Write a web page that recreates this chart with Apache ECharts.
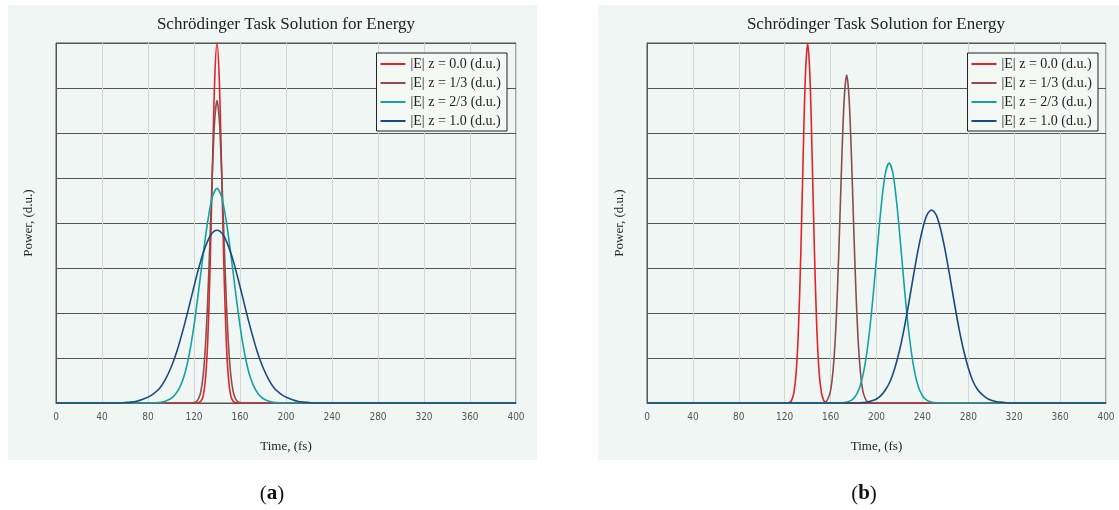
<!DOCTYPE html>
<html>
<head>
<meta charset="utf-8">
<script src="https://cdn.jsdelivr.net/npm/echarts@6/dist/echarts.min.js"></script>
<style>
  html, body { margin: 0; padding: 0; background: #fff; }
  #main { width: 1119px; height: 510px; }
</style>
</head>
<body>
<div id="main"></div>
<script>
var names = ["|E| z = 0.0 (d.u.)", "|E| z = 1/3 (d.u.)", "|E| z = 2/3 (d.u.)", "|E| z = 1.0 (d.u.)"];
var colors = ["#e3232a", "#8c4d4d", "#13a3a3", "#1a4b7c"];
var titleText = "Schrödinger Task Solution for Energy";

// panel (a): all pulses near 140 fs
var timeA0 = [122, 124, 126, 128, 130, 132, 134, 136, 138, 140, 142, 144, 146, 148, 150, 152, 154, 156, 158];
var powerA0 = [0, 0.01, 0.04, 0.16, 0.54, 1.42, 3.02, 5.19, 7.18, 8, 7.18, 5.19, 3.02, 1.42, 0.54, 0.16, 0.04, 0.01, 0];
var timeA1 = [118, 120, 122, 124, 126, 128, 130, 132, 134, 136, 138, 140, 142, 144, 146, 148, 150, 152, 154, 156, 158, 160, 162];
var powerA1 = [0, 0.01, 0.03, 0.10, 0.26, 0.62, 1.29, 2.33, 3.71, 5.16, 6.29, 6.72, 6.29, 5.16, 3.71, 2.33, 1.29, 0.62, 0.26, 0.10, 0.03, 0.01, 0];
var timeA2 = [84, 88, 92, 96, 100, 104, 108, 112, 116, 120, 124, 128, 132, 136, 140, 144, 148, 152, 156, 160, 164, 168, 172, 176, 180, 184, 188, 192, 196];
var powerA2 = [0, 0.01, 0.02, 0.05, 0.1, 0.2, 0.37, 0.65, 1.10, 1.72, 2.49, 3.31, 4.05, 4.58, 4.77, 4.58, 4.05, 3.31, 2.49, 1.72, 1.10, 0.65, 0.37, 0.2, 0.1, 0.05, 0.02, 0.01, 0];
var timeA3 = [55, 60, 65, 70, 75, 80, 85, 90, 95, 100, 105, 110, 115, 120, 125, 130, 135, 140, 145, 150, 155, 160, 165, 170, 175, 180, 185, 190, 195, 200, 205, 210, 215, 220, 225];
var powerA3 = [0, 0.01, 0.02, 0.04, 0.08, 0.13, 0.21, 0.32, 0.52, 0.79, 1.14, 1.58, 2.07, 2.59, 3.08, 3.48, 3.75, 3.84, 3.75, 3.48, 3.08, 2.59, 2.07, 1.58, 1.14, 0.79, 0.52, 0.32, 0.21, 0.13, 0.08, 0.04, 0.02, 0.01, 0];

// panel (b): pulses walk off
var timeB0 = [122, 124, 126, 128, 130, 132, 134, 136, 138, 140, 142, 144, 146, 148, 150, 152, 154, 156, 158];
var powerB0 = [0, 0.01, 0.06, 0.23, 0.68, 1.65, 3.29, 5.39, 7.25, 8, 7.25, 5.39, 3.29, 1.65, 0.68, 0.23, 0.06, 0.01, 0];
var timeB1 = [152, 154, 156, 158, 160, 162, 164, 166, 168, 170, 172, 174, 176, 178, 180, 182, 184, 186, 188, 190, 192, 194, 196];
var powerB1 = [0, 0.01, 0.03, 0.11, 0.28, 0.68, 1.39, 2.53, 4.02, 5.60, 6.82, 7.29, 6.82, 5.60, 4.02, 2.53, 1.39, 0.68, 0.28, 0.11, 0.03, 0.01, 0];
var timeB2 = [169, 172, 175, 178, 181, 184, 187, 190, 193, 196, 199, 202, 205, 208, 211, 214, 217, 220, 223, 226, 229, 232, 235, 238, 241, 244, 247, 250, 253];
var powerB2 = [0, 0.01, 0.03, 0.06, 0.13, 0.26, 0.49, 0.86, 1.40, 2.10, 2.94, 3.81, 4.59, 5.14, 5.33, 5.14, 4.59, 3.81, 2.94, 2.10, 1.40, 0.86, 0.49, 0.26, 0.13, 0.06, 0.03, 0.01, 0];
var timeB3 = [184, 188, 192, 196, 200, 204, 208, 212, 216, 220, 224, 228, 232, 236, 240, 244, 248, 252, 256, 260, 264, 268, 272, 276, 280, 284, 288, 292, 296, 300, 304, 308, 312, 316];
var powerB3 = [0, 0.01, 0.02, 0.05, 0.09, 0.17, 0.30, 0.49, 0.78, 1.16, 1.64, 2.20, 2.80, 3.37, 3.85, 4.18, 4.29, 4.18, 3.85, 3.37, 2.80, 2.20, 1.64, 1.16, 0.78, 0.49, 0.30, 0.19, 0.11, 0.06, 0.03, 0.02, 0.01, 0];

var panelA = [[timeA0, powerA0], [timeA1, powerA1], [timeA2, powerA2], [timeA3, powerA3]];
var panelB = [[timeB0, powerB0], [timeB1, powerB1], [timeB2, powerB2], [timeB3, powerB3]];

function pairs(t, p) {
  var out = [[0, 0]];
  for (var i = 0; i < t.length; i++) out.push([t[i], p[i]]);
  out.push([400, 0]);
  return out;
}

var serif = "'Liberation Serif', 'DejaVu Serif', serif";
var series = [];
[panelA, panelB].forEach(function (panel, k) {
  panel.forEach(function (d, i) {
    series.push({
      name: names[i],
      type: "line",
      xAxisIndex: k,
      yAxisIndex: k,
      data: pairs(d[0], d[1]),
      showSymbol: false,
      smooth: 0.3,
      color: colors[i],
      lineStyle: { width: 1.6, color: colors[i] },
      emphasis: { disabled: true }
    });
  });
});

function xAxis(k) {
  return {
    type: "value", gridIndex: k, min: 0, max: 400, interval: 40,
    name: "Time, (fs)", nameLocation: "middle", nameGap: 37,
    nameTextStyle: { fontFamily: serif, fontSize: 13, color: "#222" },
    axisLine: { lineStyle: { color: "#555" } },
    axisTick: { show: false },
    axisLabel: { fontSize: 10, color: "#555", margin: 9, fontFamily: "'DejaVu Sans Condensed', 'Liberation Sans Narrow', 'Liberation Sans', sans-serif" },
    splitLine: { lineStyle: { color: "#d3d8d5" } }
  };
}
function yAxis(k) {
  return {
    type: "value", gridIndex: k, min: 0, max: 8, interval: 1,
    name: "Power, (d.u.)", nameLocation: "middle", nameGap: 21,
    nameTextStyle: { fontFamily: serif, fontSize: 13, color: "#222" },
    axisLine: { show: true, lineStyle: { color: "#555" } },
    axisTick: { show: false },
    axisLabel: { show: false },
    splitLine: { lineStyle: { color: "#555", width: 1 } }
  };
}
function legend(right) {
  return {
    data: names, orient: "vertical", right: right, top: 53,
    icon: "rect", itemWidth: 25, itemHeight: 2, itemGap: 5,
    padding: [4, 6, 3, 4],
    backgroundColor: "#f3f8f5", borderColor: "#222", borderWidth: 1,
    selectedMode: false,
    textStyle: { fontFamily: serif, fontSize: 14, color: "#222", lineHeight: 14 }
  };
}
function caption(x, letter) {
  return {
    type: "text", x: x, y: 494,
    style: {
      text: "({b|" + letter + "})",
      align: "center", verticalAlign: "middle",
      font: "21px " + serif, fill: "#111",
      rich: { b: { fontFamily: serif, fontSize: 21, fontWeight: "bold", fill: "#111" } }
    }
  };
}

var chart = echarts.init(document.getElementById("main"));
var option = {
  animation: false,
  grid: [
    { left: 56, top: 43, width: 460, height: 360, show: true, borderColor: "#555", borderWidth: 1 },
    { left: 647, top: 43, width: 459, height: 360, show: true, borderColor: "#555", borderWidth: 1 }
  ],
  xAxis: [xAxis(0), xAxis(1)],
  yAxis: [yAxis(0), yAxis(1)],
  legend: [legend(612), legend(21)],
  graphic: [
    { type: "rect", z: -10, shape: { x: 8, y: 5, width: 529, height: 455 }, style: { fill: "#f0f6f3" } },
    { type: "rect", z: -10, shape: { x: 598, y: 5, width: 521, height: 455 }, style: { fill: "#f0f6f3" } },
    { type: "text", x: 286, y: 25, style: { text: titleText, align: "center", verticalAlign: "middle", font: "17px " + serif, fill: "#222" } },
    { type: "text", x: 876, y: 25, style: { text: titleText, align: "center", verticalAlign: "middle", font: "17px " + serif, fill: "#222" } },
    caption(272, "a"),
    caption(864, "b")
  ],
  series: series
};
chart.setOption(option);
</script>
</body>
</html>
